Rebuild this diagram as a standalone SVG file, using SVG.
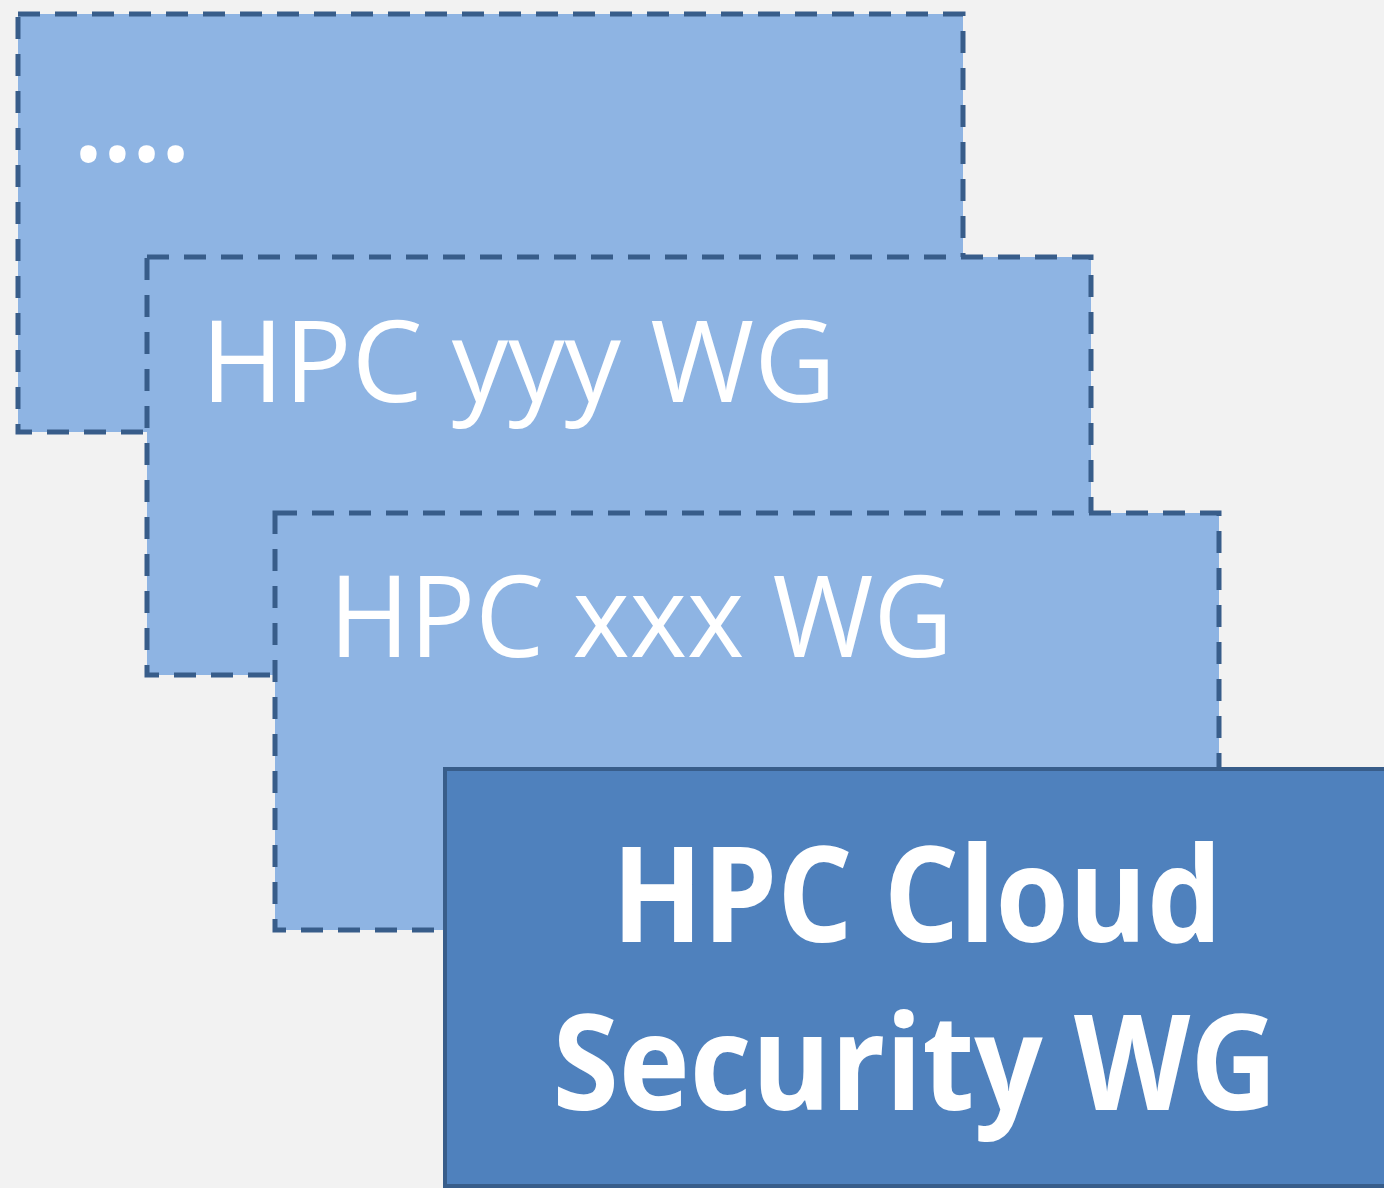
<svg xmlns="http://www.w3.org/2000/svg" width="1384" height="1188" viewBox="0 0 1384 1188">
<style>
.wg{fill:#8eb4e3;stroke:#385d8a;stroke-width:5;stroke-dasharray:22 15}
.main{fill:#4f81bd;stroke:#385d8a;stroke-width:4}
.t{fill:#ffffff;font-family:"Open Sans","Liberation Sans",sans-serif}
.tb{fill:#ffffff;font-family:"Open Sans","Liberation Sans",sans-serif;font-weight:bold;text-anchor:middle}
</style>
<rect width="1384" height="1188" fill="#f2f2f2"/>
<g id="wg-dots">
<rect class="wg" x="18" y="14" width="945" height="418"/>
<text class="t" x="70" y="161" font-size="140" textLength="124" lengthAdjust="spacing">....</text>
</g>
<g id="wg-yyy">
<rect class="wg" x="147" y="257" width="944" height="418"/>
<text class="t" x="201" y="402" font-size="114" textLength="635" lengthAdjust="spacingAndGlyphs">HPC yyy WG</text>
</g>
<g id="wg-xxx">
<rect class="wg" x="275" y="513" width="944" height="417"/>
<text class="t" x="329" y="657" font-size="114" textLength="624" lengthAdjust="spacingAndGlyphs">HPC xxx WG</text>
</g>
<g id="wg-cloud-security">
<rect class="main" x="445" y="769" width="945" height="417"/>
<text class="tb" x="917" y="942" font-size="132" textLength="610" lengthAdjust="spacingAndGlyphs">HPC Cloud</text>
<text class="tb" x="915" y="1110" font-size="132" textLength="725" lengthAdjust="spacingAndGlyphs">Security WG</text>
</g>
<g id="connectors"/>
</svg>
